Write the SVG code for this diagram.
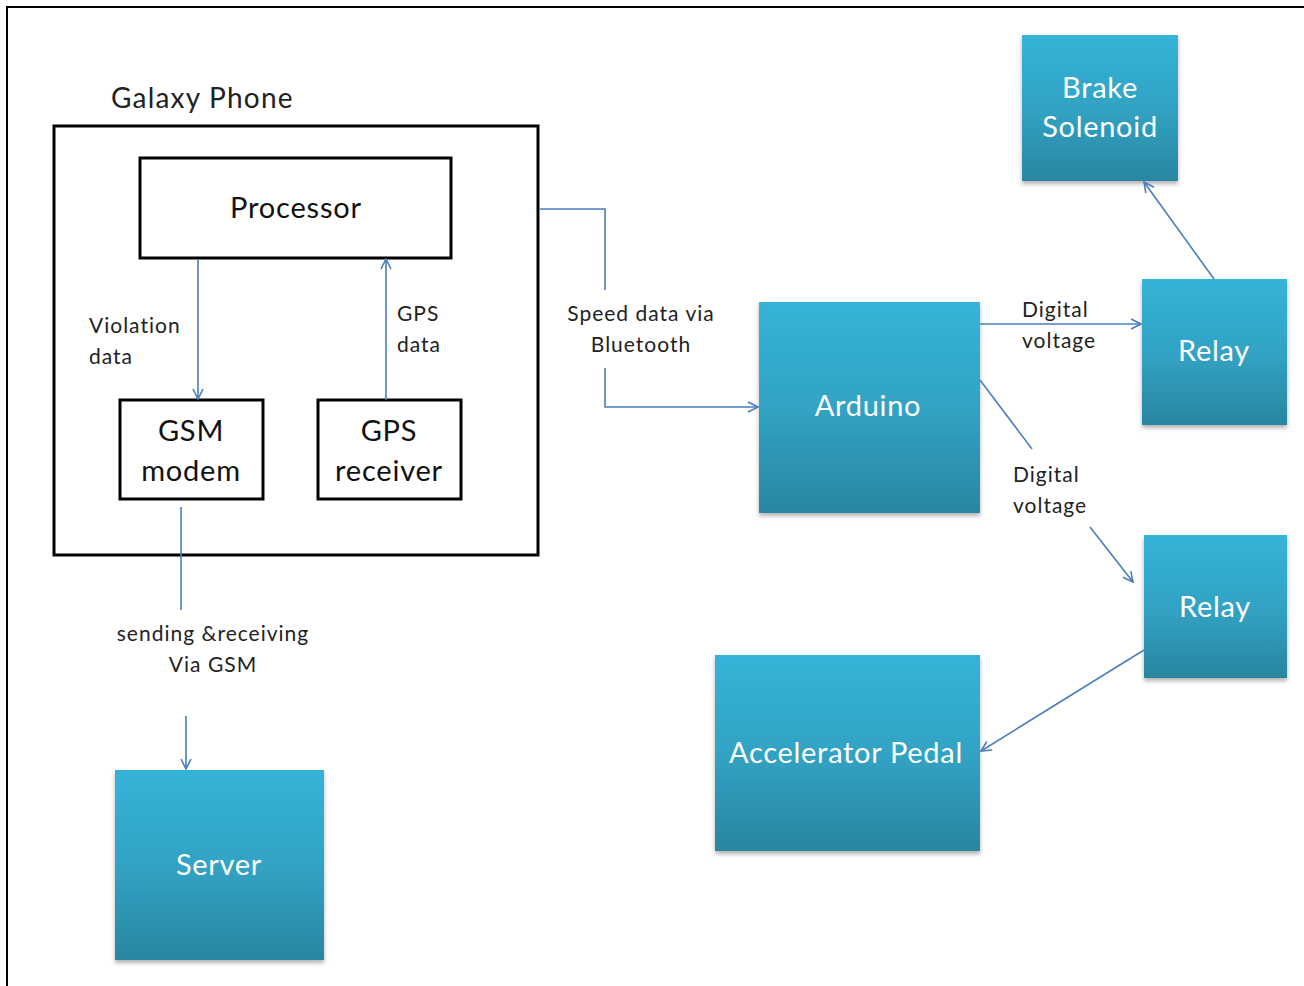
<svg xmlns="http://www.w3.org/2000/svg" width="1304" height="986" viewBox="0 0 1304 986">
<style>
.frame{fill:none;stroke:#000;stroke-width:2}
.bx{fill:#fff;stroke:#000;stroke-width:3}
.blk{font-family:Lato,"Liberation Sans",sans-serif;font-size:29px;letter-spacing:0.8px;fill:#111;text-anchor:middle}
.lbl{font-family:Lato,"Liberation Sans",sans-serif;font-size:21px;letter-spacing:1px;fill:#222}
.mid{text-anchor:middle}
.node{fill:url(#g);filter:url(#sh)}
.nt{font-family:Lato,"Liberation Sans",sans-serif;font-size:29px;letter-spacing:0.7px;fill:#fff;text-anchor:middle}
.c{fill:none;stroke:#4a7ebb;stroke-width:1.6}
</style>
<defs>
<linearGradient id="g" x1="0" y1="0" x2="0" y2="1">
<stop offset="0" stop-color="#35b3d8"/>
<stop offset="0.5" stop-color="#31a3c4"/>
<stop offset="1" stop-color="#2a86a0"/>
</linearGradient>
<filter id="sh" x="-10%" y="-10%" width="120%" height="120%">
<feDropShadow dx="0" dy="3" stdDeviation="2" flood-color="#000" flood-opacity="0.3"/>
</filter>
<marker id="a" viewBox="0 0 12 12" refX="11" refY="6" markerWidth="12" markerHeight="12" markerUnits="userSpaceOnUse" orient="auto">
<path d="M1,1 L11,6 L1,11" fill="none" stroke="#4a7ebb" stroke-width="1.6"/>
</marker>
</defs>
<rect width="1304" height="986" fill="#fff"/>
<path class="frame" d="M7,986 V7 H1304"/>

<g id="galaxy-phone">
<text x="111" y="108" font-family="Lato,'Liberation Sans',sans-serif" font-size="28" letter-spacing="1.2" fill="#222">Galaxy Phone</text>
<rect class="bx" x="54" y="126" width="484" height="429"/>
</g>
<g id="processor">
<rect class="bx" x="140" y="158" width="311" height="100"/>
<text class="blk" x="296" y="218">Processor</text>
</g>
<g id="gsm-modem">
<rect class="bx" x="120" y="400" width="143" height="99"/>
<text class="blk" x="191" y="441">GSM</text>
<text class="blk" x="191" y="481">modem</text>
</g>
<g id="gps-receiver">
<rect class="bx" x="318" y="400" width="143" height="99"/>
<text class="blk" x="389" y="441">GPS</text>
<text class="blk" x="389" y="481">receiver</text>
</g>

<g id="server">
<rect class="node" x="115" y="770" width="209" height="190"/>
<text class="nt" x="219" y="875">Server</text>
</g>
<g id="arduino">
<rect class="node" x="759" y="302" width="221" height="211"/>
<text class="nt" x="868" y="416">Arduino</text>
</g>
<g id="brake-solenoid">
<rect class="node" x="1022" y="35" width="156" height="146"/>
<text class="nt" x="1100" y="98">Brake</text>
<text class="nt" x="1100" y="137">Solenoid</text>
</g>
<g id="relay-1">
<rect class="node" x="1142" y="279" width="145" height="146"/>
<text class="nt" x="1214" y="361">Relay</text>
</g>
<g id="relay-2">
<rect class="node" x="1144" y="535" width="143" height="143"/>
<text class="nt" x="1215" y="617">Relay</text>
</g>
<g id="accelerator-pedal">
<rect class="node" x="715" y="655" width="265" height="196"/>
<text class="nt" x="846" y="763">Accelerator Pedal</text>
</g>

<g id="connectors">
<path class="c" d="M198,259 V399" marker-end="url(#a)"/>
<path class="c" d="M386,400 V259" marker-end="url(#a)"/>
<path class="c" d="M181,507 V610"/>
<path class="c" d="M186,716 V769" marker-end="url(#a)"/>
<path class="c" d="M539,209 H605 V290"/>
<path class="c" d="M605,368 V407 H758" marker-end="url(#a)"/>
<path class="c" d="M980,324 H1141" marker-end="url(#a)"/>
<path class="c" d="M980,380 L1032,449"/>
<path class="c" d="M1090,527 L1133,582" marker-end="url(#a)"/>
<path class="c" d="M1214,279 L1144,182" marker-end="url(#a)"/>
<path class="c" d="M1144,650 L981,751" marker-end="url(#a)"/>
<text class="lbl" x="89" y="333">Violation</text>
<text class="lbl" x="89" y="364">data</text>
<text class="lbl" x="397" y="321">GPS</text>
<text class="lbl" x="397" y="352">data</text>
<text class="lbl mid" x="213" y="641">sending &amp;receiving</text>
<text class="lbl mid" x="213" y="672">Via GSM</text>
<text class="lbl mid" x="641" y="321">Speed data via</text>
<text class="lbl mid" x="641" y="352">Bluetooth</text>
<text class="lbl" x="1022" y="317">Digital</text>
<text class="lbl" x="1022" y="348">voltage</text>
<text class="lbl" x="1013" y="482">Digital</text>
<text class="lbl" x="1013" y="513">voltage</text>
</g>
</svg>
